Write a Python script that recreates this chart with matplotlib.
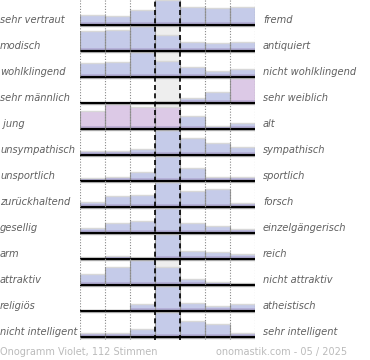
import matplotlib
matplotlib.use("Agg")
import numpy as np
from matplotlib import pyplot as plt

# -----------------------------------------------
# Daten: Gegensatzpaare und relative Balkenhöhen (Prozent vom Maximum je Zeile)
left_labels = ['sehr vertraut', 'modisch', 'wohlklingend', 'sehr männlich', ' jung',
               'unsympathisch', 'unsportlich', 'zurückhaltend', 'gesellig', 'arm',
               'attraktiv', 'religiös', 'nicht intelligent']
right_labels = ['fremd', 'antiquiert', 'nicht wohlklingend', 'sehr weiblich', 'alt',
                'sympathisch', 'sportlich', 'forsch', 'einzelgängerisch', 'reich',
                'nicht attraktiv', 'atheistisch', 'sehr intelligent']
values = [
    [40, 36, 60, 100, 72, 68, 72],
    [80, 84, 100, 65, 38, 32, 36],
    [57, 61, 100, 65, 41, 25, 32],
    [0, 0, 0, 10, 22, 46, 100],
    [73, 100, 88, 90, 54, 15, 27],
    [17, 17, 24, 100, 68, 48, 34],
    [12, 16, 38, 100, 53, 18, 18],
    [22, 44, 51, 100, 65, 75, 18],
    [22, 43, 49, 100, 43, 30, 16],
    [8, 13, 8, 100, 34, 30, 20],
    [45, 72, 100, 73, 24, 15, 11],
    [0, 0, 28, 100, 32, 22, 29],
    [17, 17, 35, 100, 67, 53, 17],
]
# Balken mit rosa Färbung (Zeile, Spalte)
pink_bars = [(3, 6), (4, 0), (4, 1), (4, 2), (4, 3)]
footer_left = 'Onogramm Violet, 112 Stimmen'
footer_right = 'onomastik.com - 05 / 2025'
# -----------------------------------------------

W, H = 370, 360
fig = plt.figure(figsize=(W / 100, H / 100), dpi=100)

row_px = 26.0
top_data = 12 + 25.3 / row_px
bottom_data = -0.12
ax_h = (top_data - bottom_data) * row_px
ax = fig.add_axes([80 / W, 1 - ax_h / H, 175 / W, ax_h / H])
ax.set_xlim(0, 7)
ax.set_ylim(bottom_data, top_data)
ax.axis('off')

full = 0.96
blue = '#c5cbe9'
pink = '#dcc9e6'
n_rows = len(values)

for i, row in enumerate(values):
    base = n_rows - 1 - i
    # grauer Hintergrund der Mittelspalte
    ax.bar(3.5, full, bottom=base, width=1, color='#eeeeee', zorder=1)
    for j, v in enumerate(row):
        h = v / 100 * full
        if h <= 0:
            continue
        c = pink if (i, j) in pink_bars else blue
        ax.bar(j + 0.5, h, bottom=base, width=1, color=c, zorder=2, linewidth=0)
        # dunklerer Streifen unten (Verlauf)
        ax.bar(j + 0.5, min(h, 0.12), bottom=base, width=1, color='#a99cca',
               alpha=0.55, zorder=2.1, linewidth=0)
        ax.hlines(base + h, j, j + 1, color='#d8d8d8', lw=1.0, zorder=2.2)
        ax.vlines([j, j + 1], base, base + h, color='#9a9a9a', lw=0.8, zorder=2.3)
    ax.hlines(base - 0.04, 0, 7, color='#bbbbbb', lw=1.0, zorder=3)
    ax.hlines(base, 0, 7, color='black', lw=1.6, zorder=4)

    ty = base + 0.2
    ax.text(-80 / 25, ty, left_labels[i], ha='left', va='center', fontsize=7.1,
            style='italic', color='#606060', clip_on=False)
    ax.text(7 + 8 / 25, ty, right_labels[i], ha='left', va='center', fontsize=7.1,
            style='italic', color='#606060', clip_on=False)

for x in [0, 1, 2, 5, 6, 7]:
    ax.axvline(x, color='#888888', lw=0.8, ls=(0, (1, 1.5)), zorder=5)
for x in [3, 4]:
    ax.axvline(x, color='black', lw=1.2, ls=(0, (3, 2)), zorder=5)

fig.text(0 / W, 1 - 352 / H, footer_left, ha='left', va='center', fontsize=7,
         color='#bbbbbb')
fig.text(347 / W, 1 - 352 / H, footer_right, ha='right', va='center', fontsize=7,
         color='#bbbbbb')

fig.savefig('out.png', dpi=100)
